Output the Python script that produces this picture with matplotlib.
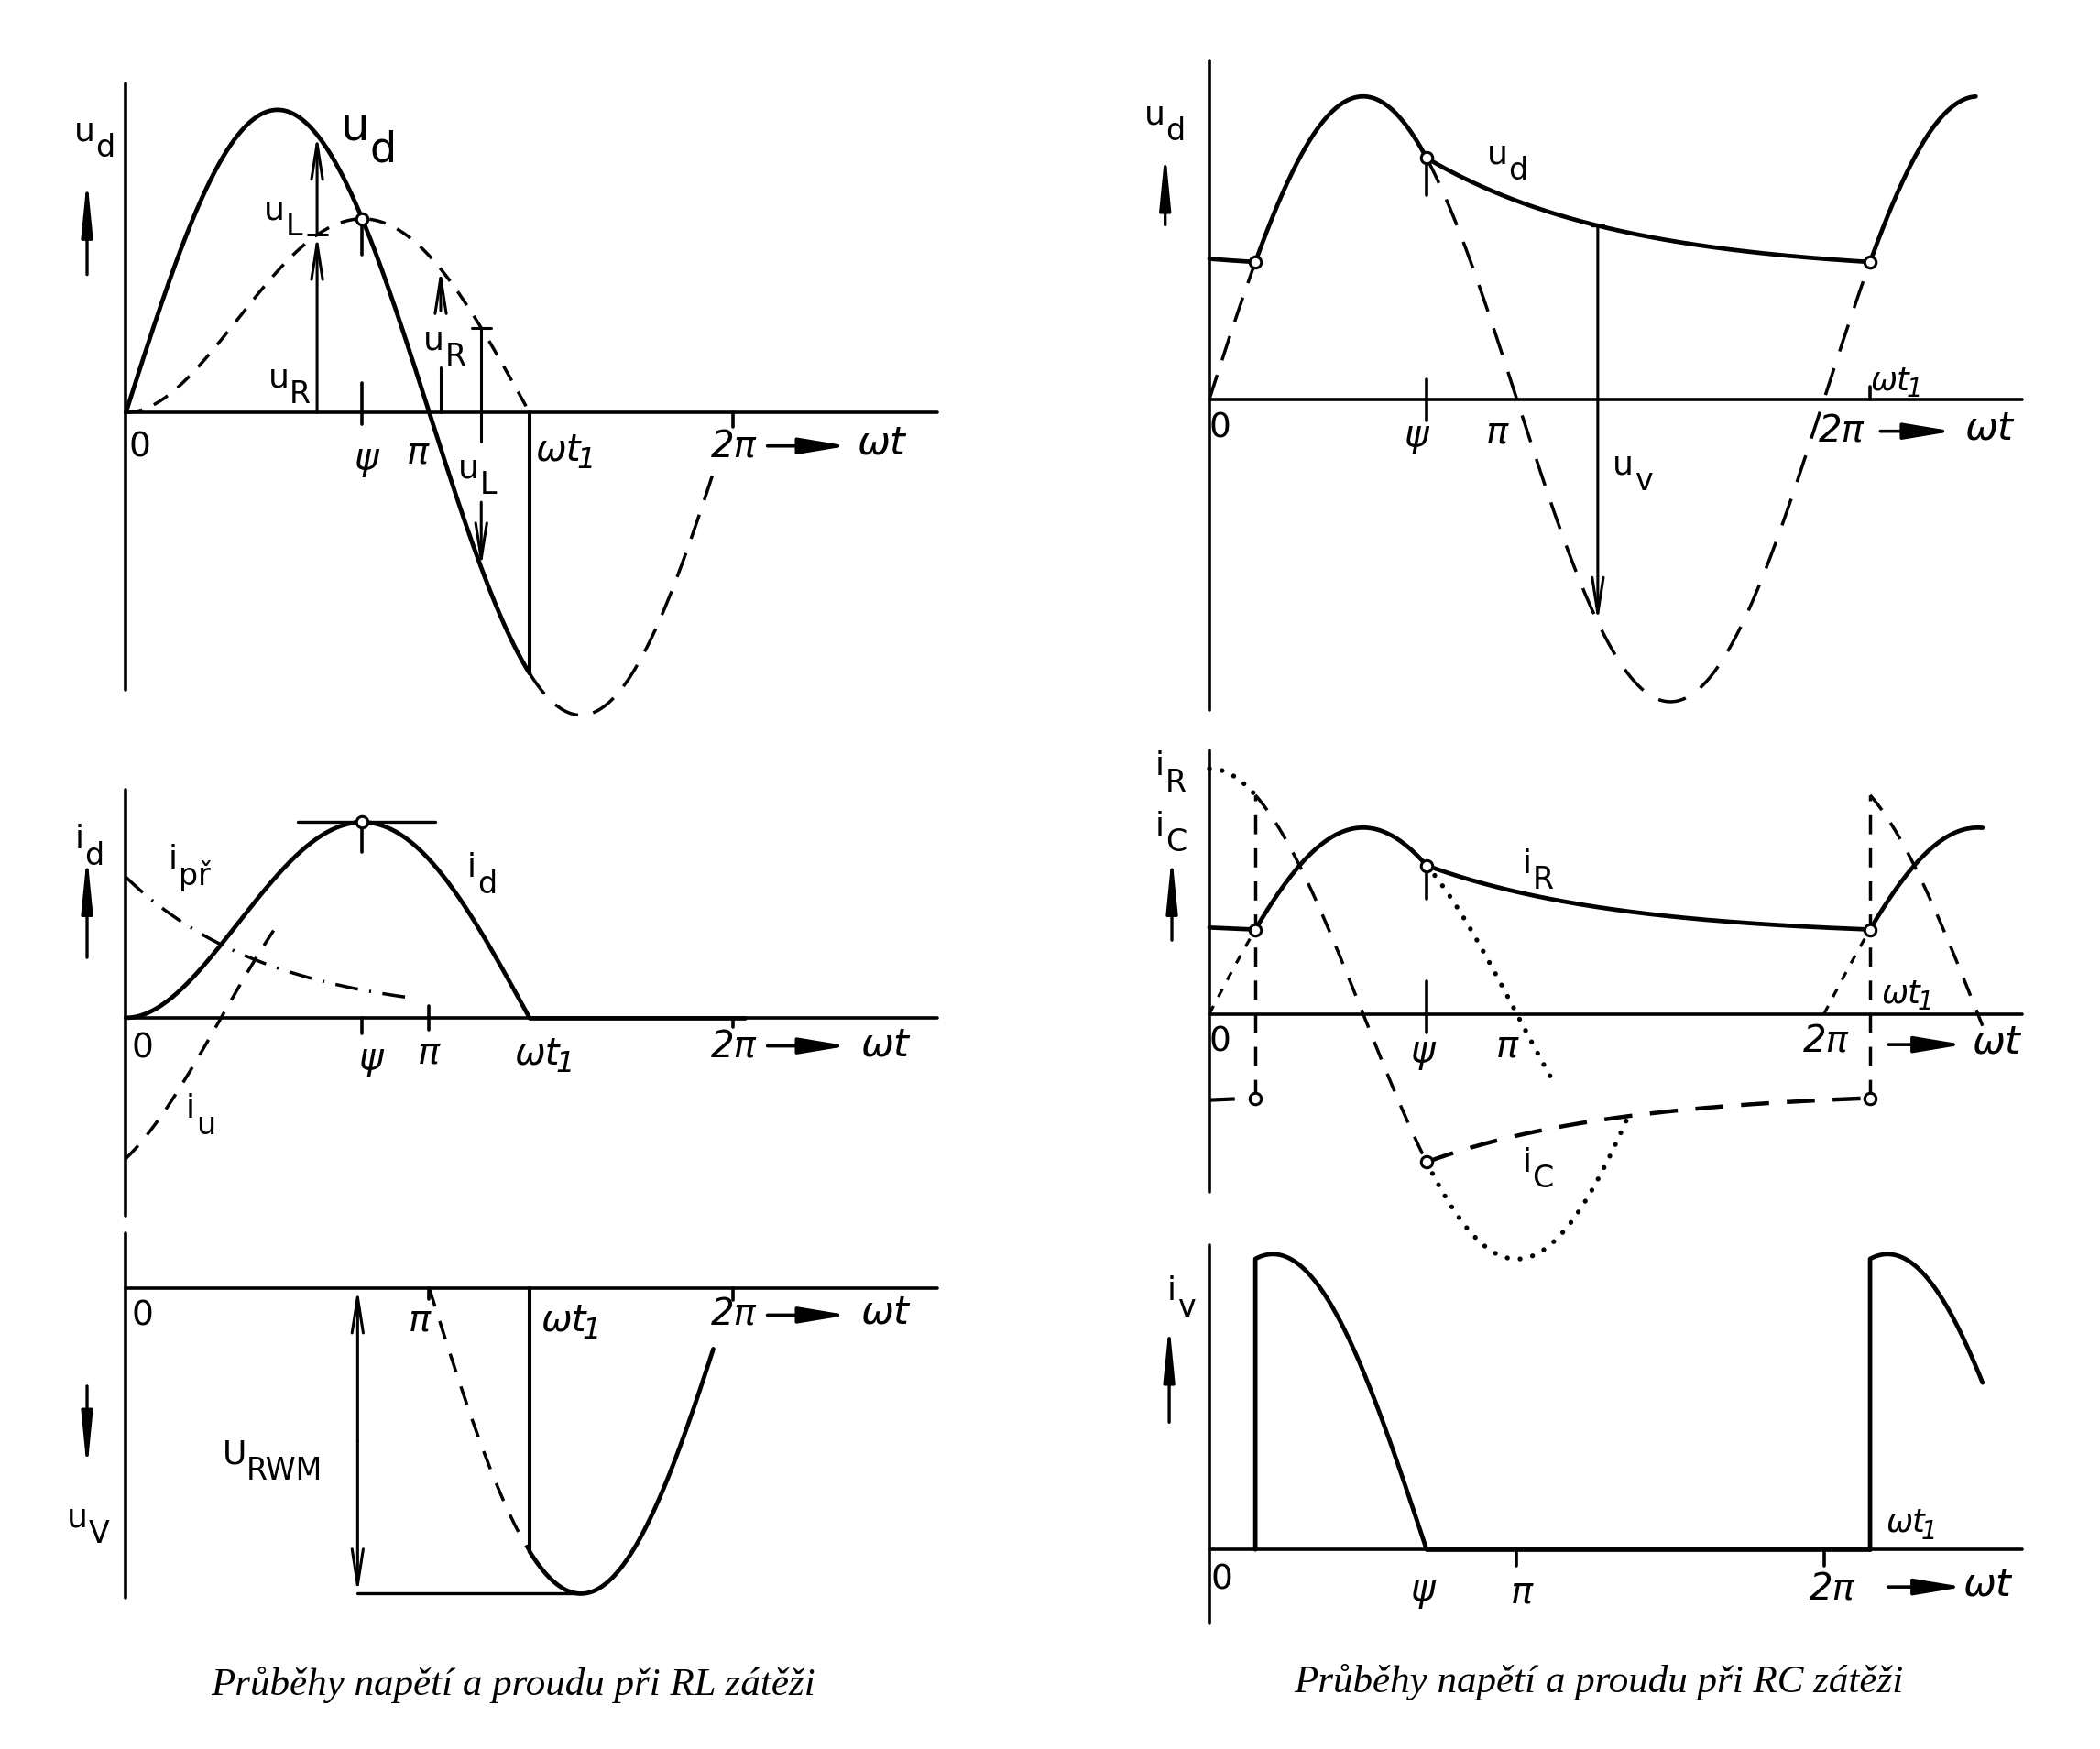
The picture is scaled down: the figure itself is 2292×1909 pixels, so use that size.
import numpy as np
import matplotlib
matplotlib.use("Agg")
import matplotlib.pyplot as plt

plt.rcParams['font.family'] = ['DejaVu Sans']
plt.rcParams['lines.scale_dashes'] = False

RW, RH = 1568, 1306          # reference frame (px) used for layout
W, H = 2292, 1909

# ---------------- values ----------------
# RL load (left column)
RL_WT1 = 4.18                # extinction angle wt1 [rad]
RL_UD_AMP = 226              # supply amplitude in u_d panel
RL_IU_AMP = 126              # amplitude of forced current i_u
RL_UV_AMP = 228              # amplitude in u_V panel
RL_ARROWS_T = [1.98, 3.26, 3.68]   # u_R / u_L arrows
RL_TANGENT = [1.78, 3.20]          # horizontal tangent at i_d peak
RL_URWM_T = 2.40                   # U_RWM arrow position
RL_DASH_END = 2 * np.pi - 0.17
RL_IU_END = 1.6
RL_IPR_END = 2.93
# RC load (right column)
RC_PSI = 2.22
RC_THETA1 = 0.47
RC_DISC_TAU = 2.0            # shape of the drawn discharge curve [rad]
RC_UD_AMP = 226
RC_IR_AMP = 139
RC_IV_JUMP = 217
RC_UV_T = 3.97
RC_END_U = 1.55
RC_END_I = 1.62
RC_IR_DOT_END = 3.52
RC_IC_DOT_END = 4.27

CAPTIONS = ["Průběhy napětí a proudu při RL zátěži",
            "Průběhy napětí a proudu při RC zátěži"]

# ---------------- derived curve shapes ----------------
def rl_phi(wt1):
    f = lambda p: np.sin(wt1 - p) + np.sin(p) * np.exp(-wt1 / np.tan(p))
    lo, hi = 0.3, 1.5
    for _ in range(80):
        m = 0.5 * (lo + hi)
        if f(m) < 0:
            lo = m
        else:
            hi = m
    return 0.5 * (lo + hi)

PHI = rl_phi(RL_WT1)
def g(t):
    return np.sin(t - PHI) + np.sin(PHI) * np.exp(-t / np.tan(PHI))
_tt = np.linspace(0, RL_WT1, 2000)
PSI_L = _tt[np.argmax(g(_tt))]
def uR(t):
    return RL_UD_AMP * np.cos(PHI) * g(t)

WT1R = 2 * np.pi + RC_THETA1
_E = np.exp(-(WT1R - RC_PSI) / RC_DISC_TAU)
_UINF = (np.sin(RC_THETA1) - np.sin(RC_PSI) * _E) / (1 - _E)
def disc(t, amp):
    return amp * (_UINF + (np.sin(RC_PSI) - _UINF) * np.exp(-(t - RC_PSI) / RC_DISC_TAU))
AC = -RC_IR_AMP * np.tan(RC_PSI)

# ---------------- figure ----------------
fig = plt.figure(figsize=(W / 100, H / 100), dpi=100)
fig.patch.set_facecolor('white')
ax0 = fig.add_axes([0, 0, 1, 1])
ax0.set_xlim(0, RW); ax0.set_ylim(RH, 0); ax0.set_axis_off()
ax0.patch.set_alpha(0)

def panel(x0, ay, ppr, box):
    l, t, r, b = box
    ax = fig.add_axes([l / RW, 1 - b / RH, (r - l) / RW, (b - t) / RH])
    ax.set_xlim((l - x0) / ppr, (r - x0) / ppr)
    ax.set_ylim(ay - b, ay - t)
    ax.set_axis_off()
    ax.patch.set_alpha(0)
    return ax

AXLW = 2.6
SOL = 3.4
DLW = 2.5

def ln(ax, x, y, lw=AXLW, ls='-', cap='butt'):
    ax.plot(x, y, color='k', lw=lw, ls=ls, clip_on=False,
            solid_capstyle='round', dash_capstyle=cap)

def arr(ax, x0, y0, x1, y1, style='->', hl=1.4, hw=0.22, lw=2.2, ms=20):
    ax.annotate('', xy=(x1, y1), xytext=(x0, y0),
                arrowprops=dict(arrowstyle=f'{style},head_length={hl},head_width={hw}',
                                lw=lw, color='k', shrinkA=0, shrinkB=0,
                                mutation_scale=ms),
                annotation_clip=False)

def circ(ax, x, y):
    ax.plot([x], [y], 'o', ms=9, mfc='white', mec='k', mew=2.2, zorder=6, clip_on=False)

def T(x, y, s, size=28, italic=False, ha='center'):
    ax0.text(x, y, s, fontsize=size, ha=ha, va='center',
             fontstyle='italic' if italic else 'normal')

LS = 26
def SUB(x, y, base, sub, size=LS, adv=0.33, drop=0.5):
    ax0.text(x, y, base, fontsize=size, ha='center', va='center')
    ax0.annotate(sub, (x, y), xytext=(adv * size, -drop * size), textcoords='offset points',
                 fontsize=0.92 * size, ha='left', va='center')

def WT(x, y, size=29):
    ax0.text(x, y, 'ωt', fontsize=size, fontstyle='italic', ha='left', va='center')
    ax0.annotate('1', (x, y), xytext=(1.12 * size, -0.28 * size), textcoords='offset points',
                 fontsize=0.8 * size, fontstyle='italic', ha='left', va='center')

def AXARROW(x0, x1, y):
    ax0.annotate('', xy=(x1, y), xytext=(x0, y),
                 arrowprops=dict(arrowstyle='-|>,head_length=1.8,head_width=0.3', lw=2.6,
                                 color='k', shrinkA=0, shrinkB=0, mutation_scale=18),
                 annotation_clip=False)

def VARROW(x, y0, y1):
    ax0.annotate('', xy=(x, y1), xytext=(x, y0),
                 arrowprops=dict(arrowstyle='-|>,head_length=2.0,head_width=0.2', lw=2.4,
                                 color='k', shrinkA=0, shrinkB=0, mutation_scale=18),
                 annotation_clip=False)

DASH_A = (0, (13, 10))
DASH_B = (0, (20, 12))
DOT = (0, (0.1, 10))
DIG, GR, WTS = 27, 29, 31

# ================= LEFT TOP (u_d, RL) =================
x0L, pL = 94, 72.1
ay = 308
ax = panel(x0L, ay, pL, (0, 30, 784, 560))
xe = (700 - x0L) / pL
ln(ax, [0, xe], [0, 0])
ln(ax, [0, 0], [ay - 515, ay - 62])
t = np.linspace(0, RL_WT1, 500)
ln(ax, t, RL_UD_AMP * np.sin(t), lw=SOL)
ln(ax, [RL_WT1] * 2, [0, RL_UD_AMP * np.sin(RL_WT1)], lw=2.9)
t2 = np.linspace(RL_WT1, RL_DASH_END, 300)
ln(ax, t2, RL_UD_AMP * np.sin(t2), lw=DLW, ls=DASH_B)
ln(ax, t, uR(t), lw=DLW, ls=DASH_A)
circ(ax, PSI_L, uR(PSI_L))
ln(ax, [PSI_L] * 2, [uR(PSI_L), uR(PSI_L) - 27])
ln(ax, [PSI_L] * 2, [-9, 22])
ln(ax, [2 * np.pi] * 2, [0, -11])
a1, a2, a3 = RL_ARROWS_T
arr(ax, a1, 0, a1, uR(a1))
arr(ax, a1, uR(a1), a1, RL_UD_AMP * np.sin(a1))
ln(ax, [a1 - 0.1, a1 + 0.1], [uR(a1)] * 2, lw=2.2)
ln(ax, [a2] * 2, [0, 34], lw=2.2)
arr(ax, a2, 76, a2, uR(a2))
ln(ax, [a3 - 0.1, a3 + 0.1], [uR(a3)] * 2, lw=2.2)
ln(ax, [a3] * 2, [uR(a3), -22], lw=2.2)
arr(ax, a3, -67, a3, RL_UD_AMP * np.sin(a3))

SUB(63, 98, 'u', 'd')
VARROW(65, 205, 133)
SUB(265, 95, 'u', 'd', size=36)
SUB(205, 157, 'u', 'L')
SUB(208, 282, 'u', 'R')
SUB(324, 254, 'u', 'R')
SUB(350, 350, 'u', 'L')
T(104, 334, '0', DIG)
T(273, 343, 'ψ', GR, True)
T(312, 338, 'π', GR, True)
WT(400, 336)
T(548, 334, '2π', GR, True)
AXARROW(573, 633, 333)
T(658, 331, 'ωt', WTS, True)

# ================= LEFT MIDDLE (i_d, RL) =================
ay = 760
ax = panel(x0L, ay, pL, (0, 560, 784, 905))
ln(ax, [0, xe], [0, 0])
ln(ax, [0, 0], [ay - 908, ay - 590])
t = np.linspace(0, RL_WT1, 500)
ln(ax, t, RL_IU_AMP * g(t), lw=SOL)
ln(ax, [RL_WT1, (556 - x0L) / pL], [0, 0], lw=SOL)
pk = RL_IU_AMP * g(PSI_L)
ln(ax, RL_TANGENT, [pk, pk], lw=2.4)
ln(ax, [PSI_L] * 2, [pk, pk - 22])
ln(ax, [PSI_L] * 2, [0, -12])
circ(ax, PSI_L, pk)
ln(ax, [np.pi] * 2, [-9, 9])
ln(ax, [2 * np.pi] * 2, [0, -7])
tu = np.linspace(0, RL_IU_END, 200)
ln(ax, tu, RL_IU_AMP * np.sin(tu - PHI), lw=DLW, ls=(0, (14, 11)))
tp = np.linspace(0, RL_IPR_END, 300)
ln(ax, tp, RL_IU_AMP * np.sin(PHI) * np.exp(-tp / np.tan(PHI)), lw=DLW,
   ls=(0, (18, 9, 1.5, 9)))

SUB(59, 627, 'i', 'd', adv=0.17)
VARROW(65, 715, 638)
SUB(129, 642, 'i', 'př', adv=0.17)
SUB(352, 648, 'i', 'd', adv=0.17)
SUB(142, 828, 'i', 'u', adv=0.17)
T(106, 783, '0', DIG)
T(277, 791, 'ψ', GR, True)
T(320, 786, 'π', GR, True)
WT(384, 787)
T(548, 782, '2π', GR, True)
AXARROW(573, 633, 781)
T(661, 780, 'ωt', WTS, True)

# ================= LEFT BOTTOM (u_V, RL) =================
ay = 962
ax = panel(x0L, ay, pL, (0, 905, 784, 1215))
ln(ax, [0, xe], [0, 0])
ln(ax, [0, 0], [ay - 1193, ay - 921])
td = np.linspace(np.pi, RL_WT1, 200)
ln(ax, td, RL_UV_AMP * np.sin(td), lw=DLW, ls=(0, (15, 12)))
ln(ax, [RL_WT1] * 2, [0, RL_UV_AMP * np.sin(RL_WT1)], lw=2.9)
ts = np.linspace(RL_WT1, 2 * np.pi - 0.2, 300)
ln(ax, ts, RL_UV_AMP * np.sin(ts), lw=SOL)
ln(ax, [RL_URWM_T, 1.5 * np.pi], [-RL_UV_AMP] * 2, lw=2.4)
arr(ax, RL_URWM_T, -RL_UV_AMP / 2, RL_URWM_T, 0)
arr(ax, RL_URWM_T, -RL_UV_AMP / 2, RL_URWM_T, -RL_UV_AMP)
ln(ax, [2 * np.pi] * 2, [0, -9])
ln(ax, [np.pi] * 2, [0, -8])

VARROW(65, 1035, 1098)
SUB(58, 1133, 'u', 'V')
SUB(175, 1086, 'U', 'RWM', adv=0.37)
T(106, 983, '0', DIG)
T(313, 986, 'π', GR, True)
WT(404, 986)
T(548, 982, '2π', GR, True)
AXARROW(573, 633, 982)
T(661, 980, 'ωt', WTS, True)

# ================= RIGHT TOP (u_d, RC) =================
x0R, pR = 903, 73.05
ay = 298
ax = panel(x0R, ay, pR, (784, 30, 1568, 545))
xe2 = (1510 - x0R) / pR
ln(ax, [0, xe2], [0, 0])
ln(ax, [0, 0], [ay - 530, ay - 45])
A = RC_UD_AMP
ta = np.linspace(0, RC_THETA1, 60)
tb = np.linspace(RC_THETA1, RC_PSI, 300)
tc = np.linspace(RC_PSI, WT1R, 500)
tdd = np.linspace(WT1R, 2 * np.pi + RC_END_U, 150)
ln(ax, np.r_[ta, tb, tc, tdd],
   np.r_[disc(ta + 2 * np.pi, A), A * np.sin(tb), disc(tc, A), A * np.sin(tdd)], lw=SOL)
ln(ax, ta, A * np.sin(ta), lw=DLW, ls=DASH_B)
ln(ax, tc, A * np.sin(tc), lw=DLW, ls=(0, (22, 14)))
circ(ax, RC_THETA1, A * np.sin(RC_THETA1))
circ(ax, RC_PSI, A * np.sin(RC_PSI))
circ(ax, WT1R, A * np.sin(WT1R))
ln(ax, [RC_PSI] * 2, [A * np.sin(RC_PSI), A * np.sin(RC_PSI) - 28])
ln(ax, [RC_PSI] * 2, [-16, 15])
ln(ax, [WT1R] * 2, [0, 9])
arr(ax, RC_UV_T, disc(RC_UV_T, A), RC_UV_T, A * np.sin(RC_UV_T))
ln(ax, [RC_UV_T - 0.06, RC_UV_T + 0.06], [disc(RC_UV_T, A)] * 2, lw=2.4)

SUB(862, 86, 'u', 'd')
VARROW(870, 168, 113)
SUB(1118, 115, 'u', 'd')
SUB(1212, 347, 'u', 'v')
T(911, 320, '0', DIG)
T(1057, 326, 'ψ', GR, True)
T(1118, 323, 'π', GR, True)
T(1375, 322, '2π', GR, True)
AXARROW(1404, 1458, 322)
T(1485, 320, 'ωt', WTS, True)
WT(1397, 284, 25)

# ================= RIGHT MIDDLE (i_R, i_C) =================
ay = 757
ax = panel(x0R, ay, pR, (784, 545, 1568, 905))
ln(ax, [0, xe2], [0, 0])
ln(ax, [0, 0], [ay - 890, ay - 560])
B = RC_IR_AMP
tdd = np.linspace(WT1R, 2 * np.pi + RC_END_I, 150)
ln(ax, np.r_[ta, tb, tc, tdd],
   np.r_[disc(ta + 2 * np.pi, B), B * np.sin(tb), disc(tc, B), B * np.sin(tdd)], lw=SOL)
# i_C
ln(ax, ta, -disc(ta + 2 * np.pi, B), lw=3.0, ls=(0, (20, 13)))
ln(ax, [RC_THETA1] * 2, [-disc(RC_THETA1 + 2 * np.pi, B), AC * np.cos(RC_THETA1)], lw=DLW,
   ls=(0, (15, 11)))
ln(ax, tb, AC * np.cos(tb), lw=DLW, ls=(0, (15, 12)))
ln(ax, tc, -disc(tc, B), lw=3.2, ls=(0, (22, 14)))
ln(ax, [WT1R] * 2, [-disc(WT1R, B), AC * np.cos(RC_THETA1)], lw=DLW, ls=(0, (15, 11)))
ln(ax, tdd, AC * np.cos(tdd), lw=DLW, ls=(0, (15, 12)))
# dotted continuations
ln(ax, ta, B * np.sin(ta), lw=2.3, ls=(0, (7, 8)))
t6 = np.linspace(2 * np.pi, WT1R, 60)
ln(ax, t6, B * np.sin(t6), lw=2.3, ls=(0, (7, 8)))
te = np.linspace(RC_PSI, RC_IR_DOT_END, 200)
ln(ax, te, B * np.sin(te), lw=3.8, ls=DOT, cap='round')
ln(ax, ta, AC * np.cos(ta), lw=3.8, ls=DOT, cap='round')
tf = np.linspace(RC_PSI, RC_IC_DOT_END, 300)
ln(ax, tf, AC * np.cos(tf), lw=3.8, ls=DOT, cap='round')
for tt_, sgn in [(RC_THETA1, 1), (RC_THETA1, -1), (RC_PSI, 1), (RC_PSI, -1), (WT1R, 1), (WT1R, -1)]:
    circ(ax, tt_, sgn * B * np.sin(tt_))
ln(ax, [RC_PSI] * 2, [B * np.sin(RC_PSI), B * np.sin(RC_PSI) - 25])
ln(ax, [RC_PSI] * 2, [-14, 24])

SUB(866, 572, 'i', 'R', adv=0.17)
SUB(866, 617, 'i', 'C', adv=0.17)
VARROW(875, 702, 638)
SUB(1140, 645, 'i', 'R', adv=0.17)
SUB(1140, 868, 'i', 'C', adv=0.17)
T(911, 778, '0', DIG)
T(1062, 786, 'ψ', GR, True)
T(1125, 781, 'π', GR, True)
T(1363, 778, '2π', GR, True)
AXARROW(1410, 1466, 780)
T(1491, 778, 'ωt', WTS, True)
WT(1405, 742, 25)

# ================= RIGHT BOTTOM (i_v) =================
ay = 1157
ax = panel(x0R, ay, pR, (784, 905, 1568, 1230))
ln(ax, [0, xe2], [0, 0])
ln(ax, [0, 0], [ay - 1212, ay - 930])
def iv_raw(t):
    return B * np.sin(t) + AC * np.cos(t)
sv = RC_IV_JUMP / iv_raw(RC_THETA1)
tb2 = np.linspace(RC_THETA1, RC_PSI, 300)
ln(ax, np.r_[RC_THETA1, tb2], np.r_[0, sv * iv_raw(tb2)], lw=SOL)
ln(ax, [RC_PSI, WT1R], [0, 0], lw=SOL)
tg = np.linspace(WT1R, 2 * np.pi + RC_END_I, 150)
ln(ax, np.r_[WT1R, tg], np.r_[0, sv * iv_raw(tg)], lw=SOL)
ln(ax, [np.pi] * 2, [0, -12])
ln(ax, [2 * np.pi] * 2, [0, -12])

SUB(875, 964, 'i', 'v', adv=0.17)
VARROW(873, 1062, 988)
T(912, 1180, '0', DIG)
T(1062, 1188, 'ψ', GR, True)
T(1136, 1189, 'π', GR, True)
T(1368, 1187, '2π', GR, True)
AXARROW(1410, 1466, 1185)
T(1484, 1183, 'ωt', WTS, True)
WT(1408, 1137, 25)

# ================= captions =================
for xc, yc, cap in [(383, 1258, CAPTIONS[0]), (1194, 1256, CAPTIONS[1])]:
    ax0.text(xc, yc, cap, fontsize=31, ha='center', va='center',
             family=['Liberation Serif', 'DejaVu Serif'], fontstyle='italic')

fig.savefig('out.png', dpi=100, facecolor='white')
